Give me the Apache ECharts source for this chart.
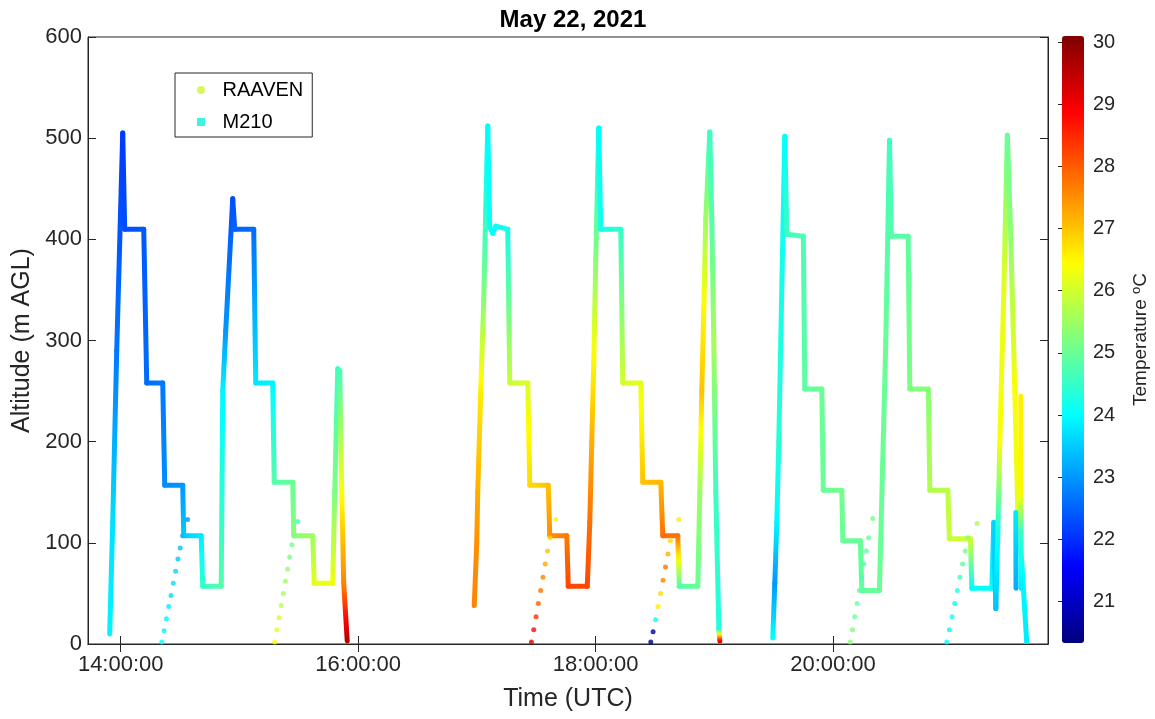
<!DOCTYPE html>
<html>
<head>
<meta charset="utf-8">
<script src="https://cdn.jsdelivr.net/npm/echarts@6/dist/echarts.min.js"></script>
<style>
  html, body { margin: 0; padding: 0; background: #fff; }
  #main { width: 1155px; height: 719px; }
</style>
</head>
<body>
<div id="main"></div>
<script>
// rows: [time UTC, altitude m AGL, temperature degC]
const m210Flight1 = [
  ['13:54:26', 10, 23.9], ['13:55:57', 120, 23.7], ['13:57:59', 290, 22.7], ['14:01:01', 505, 22.1],
  ['14:02:01', 410, 22.3], ['14:11:38', 410, 22.4], ['14:13:09', 258, 22.6], ['14:21:14', 258, 22.7],
  ['14:22:15', 157, 22.9], ['14:31:20', 157, 23.0], ['14:31:51', 107, 23.5], ['14:40:41', 107, 23.8],
  ['14:41:27', 57, 24.5], ['14:50:48', 57, 24.8], ['14:51:34', 250, 23.9], ['14:53:05', 310, 23.0],
  ['14:56:37', 440, 22.3], ['14:57:38', 410, 22.5], ['15:07:14', 410, 22.6], ['15:08:14', 258, 23.8],
  ['15:16:50', 258, 23.9], ['15:17:35', 160, 24.8], ['15:26:57', 160, 25.0], ['15:27:27', 107, 25.3],
  ['15:37:03', 107, 25.5], ['15:37:49', 60, 26.2], ['15:47:10', 60, 26.3], ['15:48:10', 150, 25.2],
  ['15:49:41', 272, 24.6], ['15:50:42', 270, 24.7], ['15:51:43', 150, 26.4], ['15:52:43', 60, 27.6],
  ['15:54:29', 3, 29.6]
];
const m210Flight2 = [
  ['16:58:41', 38, 27.6], ['16:59:57', 100, 27.5], ['17:00:27', 150, 27.2], ['17:01:58', 250, 26.6],
  ['17:03:29', 340, 25.3], ['17:04:30', 430, 24.4], ['17:05:31', 512, 24.0], ['17:06:31', 412, 24.1],
  ['17:08:02', 406, 24.0], ['17:09:33', 413, 24.1], ['17:15:37', 410, 24.2], ['17:16:38', 258, 25.9],
  ['17:25:44', 258, 26.1], ['17:26:45', 157, 26.8], ['17:36:06', 157, 27.0], ['17:36:51', 107, 27.5],
  ['17:45:27', 107, 27.7], ['17:46:12', 57, 28.2], ['17:55:49', 57, 28.2], ['17:57:04', 120, 27.8],
  ['17:58:05', 200, 27.2], ['17:59:06', 280, 26.5], ['18:00:06', 380, 25.3], ['18:01:37', 510, 24.0],
  ['18:02:38', 410, 24.2], ['18:12:45', 410, 24.5], ['18:13:45', 258, 26.0], ['18:22:51', 258, 26.2],
  ['18:23:52', 160, 27.0], ['18:32:58', 160, 27.1], ['18:33:58', 107, 27.8], ['18:41:33', 107, 27.8],
  ['18:42:19', 57, 24.8], ['18:51:40', 57, 25.0], ['18:52:41', 150, 25.5], ['18:53:41', 250, 27.0],
  ['18:54:42', 330, 26.5], ['18:55:42', 420, 25.5], ['18:57:44', 506, 24.6], ['18:58:44', 420, 24.8],
  ['18:59:45', 300, 25.6], ['19:00:46', 150, 24.6], ['19:02:18', 15, 24.3], ['19:02:48', 3, 29.0]
];
const m210Flight3 = [
  ['19:29:34', 6, 24.0], ['19:30:35', 60, 23.0], ['19:31:36', 120, 23.9], ['19:32:36', 200, 24.4],
  ['19:35:38', 502, 24.0], ['19:36:39', 405, 24.6], ['19:45:00', 403, 24.7], ['19:45:45', 252, 24.9],
  ['19:54:21', 252, 25.0], ['19:55:06', 152, 25.0], ['20:04:27', 152, 25.1], ['20:04:58', 102, 25.0],
  ['20:13:48', 102, 25.0], ['20:14:34', 53, 24.9], ['20:23:28', 53, 25.0], ['20:26:42', 300, 25.0],
  ['20:28:34', 498, 24.6], ['20:29:29', 403, 24.8], ['20:37:58', 403, 24.9], ['20:38:50', 252, 25.2],
  ['20:48:11', 252, 25.3], ['20:48:56', 152, 25.7], ['20:58:02', 152, 25.8], ['20:58:48', 104, 25.9],
  ['21:09:28', 104, 26.0], ['21:10:10', 55, 24.0], ['21:20:16', 55, 24.0], ['21:21:17', 120, 23.6],
  ['21:22:18', 35, 23.4], ['21:23:19', 110, 24.2], ['21:24:19', 200, 26.4], ['21:26:21', 350, 26.2],
  ['21:28:07', 503, 25.0], ['21:29:53', 400, 25.4], ['21:31:54', 250, 26.4], ['21:33:25', 130, 26.2],
  ['21:35:26', 80, 24.0], ['21:37:58', 0, 23.8]
];
const m210Stub1 = [['21:32:24', 130, 23.8], ['21:32:30', 55, 23.2]];
const m210Stub2 = [['21:34:56', 245, 26.6], ['21:34:58', 150, 26.5], ['21:35:00', 110, 24.5], ['21:35:02', 55, 23.8]];

const raavenPoints = [
  ['14:20:45', 2, 24.0], ['14:21:55', 13, 23.9], ['14:23:05', 25, 23.9], ['14:24:15', 37, 23.8],
  ['14:25:25', 48, 23.7], ['14:26:35', 60, 23.7], ['14:27:45', 72, 23.6], ['14:28:55', 84, 23.5],
  ['14:30:05', 95, 23.4], ['14:31:15', 107, 23.3], ['14:33:50', 123, 23.0],
  ['15:17:50', 2, 26.4], ['15:18:55', 14, 26.2], ['15:20:00', 26, 26.0], ['15:21:05', 38, 25.8],
  ['15:22:10', 50, 25.6], ['15:23:15', 62, 25.5], ['15:24:20', 74, 25.4], ['15:25:25', 86, 25.2],
  ['15:26:30', 98, 25.1], ['15:29:30', 121, 24.6],
  ['17:27:35', 2, 29.2], ['17:28:45', 14, 28.8], ['17:29:55', 27, 28.4], ['17:31:05', 40, 28.0],
  ['17:32:15', 53, 27.8], ['17:33:25', 66, 27.6], ['17:34:35', 79, 27.3], ['17:35:45', 92, 27.0],
  ['17:37:00', 105, 26.8], ['17:39:50', 123, 26.5],
  ['18:27:55', 2, 20.4], ['18:29:05', 12, 20.6], ['18:30:20', 24, 24.0], ['18:31:35', 37, 26.6],
  ['18:32:50', 50, 26.8], ['18:34:05', 63, 27.6], ['18:35:20', 76, 27.8], ['18:36:35', 89, 27.2],
  ['18:37:50', 102, 26.8], ['18:42:05', 123, 26.6],
  ['20:08:40', 2, 25.3], ['20:09:50', 14, 25.2], ['20:11:00', 27, 25.0], ['20:12:10', 40, 25.0],
  ['20:13:20', 53, 24.9], ['20:14:30', 66, 24.7], ['20:15:40', 79, 24.8], ['20:16:50', 92, 24.9],
  ['20:18:00', 105, 25.0], ['20:20:05', 124, 25.1],
  ['20:57:30', 2, 24.0], ['20:58:50', 14, 24.0], ['21:00:10', 27, 24.1], ['21:01:30', 40, 24.2],
  ['21:02:50', 53, 24.3], ['21:04:10', 66, 24.6], ['21:05:30', 79, 24.9], ['21:06:50', 92, 25.1],
  ['21:08:10', 105, 25.3], ['21:12:50', 119, 25.6]
];

const altTicks = [0, 100, 200, 300, 400, 500, 600];
const timeTicks = ['14:00:00', '16:00:00', '18:00:00', '20:00:00'];
const timeRange = ['13:43:28', '21:48:40'];
const tempTicks = [21, 22, 23, 24, 25, 26, 27, 28, 29, 30];
const tempRange = [20.33, 30.1];
const jet = ['#00007f', '#0000ff', '#007fff', '#00ffff', '#7fff7f', '#ffff00', '#ff7f00', '#ff0000', '#7f0000'];

function toHours(s) {
  const p = s.split(':').map(Number);
  return p[0] + p[1] / 60 + (p[2] || 0) / 3600;
}
function fmtHours(v) {
  let sec = Math.round(v * 3600);
  const h = Math.floor(sec / 3600); sec -= h * 3600;
  const m = Math.floor(sec / 60); sec -= m * 60;
  return [h, m, sec].map(n => String(n).padStart(2, '0')).join(':');
}
function jetColor(temp) {
  const t = (temp - tempRange[0]) / (tempRange[1] - tempRange[0]);
  return echarts.color.lerp(Math.max(0, Math.min(1, t)), jet);
}

const m210Data = [];
[m210Flight1, m210Flight2, m210Flight3, m210Stub1, m210Stub2].forEach((flight, k) => {
  flight.forEach(r => m210Data.push([toHours(r[0]), r[1], r[2], k]));
});
const raavenData = raavenPoints.map(r => [toHours(r[0]), r[1], r[2]]);
const timeTickValues = timeTicks.map(toHours);

// one segment per consecutive pair of samples, shaded through the colormap between their temperatures
function renderTrack(params, api) {
  const i = params.dataIndexInside;
  if (i === 0 || api.value(3, i - 1) !== api.value(3)) return null;
  const p0 = api.coord([api.value(0, i - 1), api.value(1, i - 1)]);
  const p1 = api.coord([api.value(0), api.value(1)]);
  const t0 = api.value(2, i - 1), t1 = api.value(2);
  const stops = [];
  for (let k = 0; k <= 8; k++) {
    stops.push({ offset: k / 8, color: jetColor(t0 + (t1 - t0) * k / 8) });
  }
  return {
    type: 'line',
    shape: { x1: p0[0], y1: p0[1], x2: p1[0], y2: p1[1] },
    style: {
      stroke: { type: 'linear', x: p0[0], y: p0[1], x2: p1[0], y2: p1[1] + 0.01, global: true, colorStops: stops },
      lineWidth: 5,
      lineCap: 'round'
    }
  };
}

const font = "'Liberation Sans', Arial, sans-serif";
const ink = '#262626';

const chart = echarts.init(document.getElementById('main'));
const option = {
  animation: false,
  backgroundColor: '#fff',
  textStyle: { fontFamily: font },
  title: {
    text: 'May 22, 2021',
    left: 568, top: 3, textAlign: 'center',
    textStyle: { fontFamily: font, fontSize: 24, fontWeight: 'bold', color: '#000' }
  },
  legend: {
    orient: 'vertical',
    left: 175, top: 73,
    padding: [6, 9, 4, 22],
    itemGap: 10,
    itemWidth: 33, itemHeight: 8,
    backgroundColor: '#fff',
    borderColor: ink, borderWidth: 1, borderRadius: 0,
    textStyle: { fontFamily: font, fontSize: 20, color: '#000', lineHeight: 22 },
    data: [
      { name: 'RAAVEN', icon: 'circle', itemStyle: { color: '#cdf53a' } },
      { name: 'M210', icon: 'path://M0,0h10v10h-10z', itemStyle: { color: '#3ff2e2' } }
    ]
  },
  grid: [
    { left: 88, top: 37, width: 960, height: 607, show: true, borderColor: ink, borderWidth: 1, backgroundColor: '#fff' },
    { left: 1062, top: 36, width: 22, height: 607 }
  ],
  xAxis: [
    {
      type: 'value', gridIndex: 0,
      min: toHours(timeRange[0]), max: toHours(timeRange[1]),
      name: 'Time (UTC)', nameLocation: 'middle', nameGap: 43,
      nameTextStyle: { fontFamily: font, fontSize: 25, color: ink },
      axisLine: { lineStyle: { color: ink } },
      axisTick: { inside: true, length: 8, lineStyle: { color: ink }, customValues: timeTickValues },
      axisLabel: { fontFamily: font, fontSize: 22, color: ink, margin: 10, formatter: fmtHours, customValues: timeTickValues },
      splitLine: { show: false }
    },
    {
      type: 'value', gridIndex: 0, position: 'top',
      min: toHours(timeRange[0]), max: toHours(timeRange[1]),
      axisLine: { lineStyle: { color: ink } },
      axisTick: { inside: true, length: 8, lineStyle: { color: ink }, customValues: timeTickValues },
      axisLabel: { show: false }, splitLine: { show: false }
    },
    { type: 'value', gridIndex: 1, show: false, min: 0, max: 1 }
  ],
  yAxis: [
    {
      type: 'value', gridIndex: 0,
      min: altTicks[0], max: altTicks[altTicks.length - 1], interval: altTicks[1] - altTicks[0],
      name: 'Altitude (m AGL)', nameLocation: 'middle', nameGap: 50,
      nameTextStyle: { fontFamily: font, fontSize: 25, color: ink },
      axisLine: { show: true, lineStyle: { color: ink } },
      axisTick: { show: true, inside: true, length: 8, lineStyle: { color: ink } },
      axisLabel: { fontFamily: font, fontSize: 22, color: ink, margin: 6 },
      splitLine: { show: false }
    },
    {
      type: 'value', gridIndex: 0, position: 'right',
      min: altTicks[0], max: altTicks[altTicks.length - 1], interval: altTicks[1] - altTicks[0],
      axisLine: { show: true, lineStyle: { color: ink } },
      axisTick: { show: true, inside: true, length: 8, lineStyle: { color: ink } },
      axisLabel: { show: false }, splitLine: { show: false }
    },
    {
      type: 'value', gridIndex: 1, position: 'right',
      min: tempRange[0], max: tempRange[1],
      name: 'Temperature {sup|o}C', nameLocation: 'middle', nameGap: 46, nameRotate: 90,
      nameTextStyle: {
        fontFamily: font, fontSize: 19, color: ink,
        rich: { sup: { fontFamily: font, fontSize: 13, color: ink, verticalAlign: 'top', padding: [0, 0, 9, 0] } }
      },
      axisLine: { show: false },
      axisTick: { show: true, inside: true, length: 4, lineStyle: { color: ink }, customValues: tempTicks },
      axisLabel: { fontFamily: font, fontSize: 20, color: ink, margin: 9, customValues: tempTicks },
      splitLine: { show: false }
    }
  ],
  visualMap: {
    type: 'continuous',
    min: tempRange[0], max: tempRange[1],
    dimension: 2,
    seriesIndex: [0, 1],
    left: 1062, top: 36,
    itemWidth: 22, itemHeight: 607,
    padding: 0,
    calculable: false,
    hoverLink: false,
    inRange: { color: jet }
  },
  series: [
    {
      name: 'M210',
      type: 'custom',
      xAxisIndex: 0, yAxisIndex: 0,
      renderItem: renderTrack,
      encode: { x: 0, y: 1 },
      data: m210Data,
      clip: true,
      z: 2
    },
    {
      name: 'RAAVEN',
      type: 'scatter',
      xAxisIndex: 0, yAxisIndex: 0,
      symbol: 'circle',
      symbolSize: 5,
      data: raavenData,
      z: 3
    }
  ]
};
chart.setOption(option);
</script>
</body>
</html>
